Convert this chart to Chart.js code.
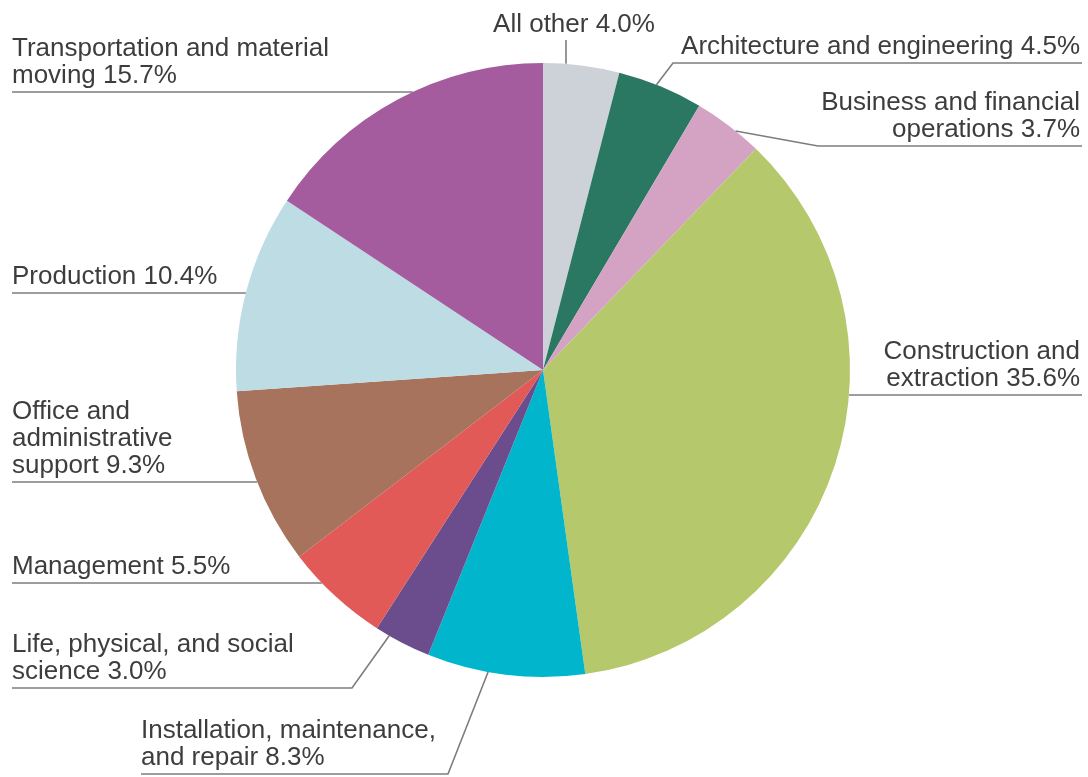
<!DOCTYPE html>
<html>
<head>
<meta charset="utf-8">
<script src="https://cdn.jsdelivr.net/npm/chart.js@4.4.1/dist/chart.umd.min.js"></script>
<style>
  html, body { margin: 0; padding: 0; background: #fff; }
  #wrap { width: 1088px; height: 777px; }
</style>
</head>
<body>
<div id="wrap"><canvas id="pie" width="1088" height="777"></canvas></div>
<script>
// categories, clockwise from 12 o'clock
const categories = [
  'All other',
  'Architecture and engineering',
  'Business and financial operations',
  'Construction and extraction',
  'Installation, maintenance, and repair',
  'Life, physical, and social science',
  'Management',
  'Office and administrative support',
  'Production',
  'Transportation and material moving'
];
const shares = [4.0, 4.5, 3.7, 35.6, 8.3, 3.0, 5.5, 9.3, 10.4, 15.7];
const sliceColors = [
  '#cdd2d9', '#2b7862', '#d4a3c3', '#b6c86c', '#00b5cc',
  '#6b4d8d', '#e25a58', '#a7735c', '#bedce4', '#a55c9e'
];

// label placement (same order as categories)
// words: words per line before the last line, mode: how the leader meets the pie
// at: where along the slice (0..1) an elbow leader touches the rim
const labelLayout = [
  { x: 574, align: 'center', base: 32, words: [], mode: 'v', lineX: 566, lineTop: 40 },
  { x: 1080, align: 'right', base: 54, words: [], mode: 'elbow', uy: 63, ux1: 673, ux2: 1082, at: 0.45 },
  { x: 1080, align: 'right', base: 137, words: [3], mode: 'elbow', uy: 146, ux1: 818, ux2: 1082, at: 0.62 },
  { x: 1080, align: 'right', base: 386, words: [2], mode: 'h', side: 'right', uy: 395, ux2: 1082 },
  { x: 141, align: 'left', base: 765, words: [2], mode: 'elbow', uy: 774, ux1: 141, ux2: 448, at: 0.61 },
  { x: 12, align: 'left', base: 679, words: [4], mode: 'elbow', uy: 688, ux1: 12, ux2: 352, at: 0.75 },
  { x: 12, align: 'left', base: 574, words: [], mode: 'h', side: 'left', uy: 583, ux1: 12 },
  { x: 12, align: 'left', base: 473, words: [2, 1], mode: 'h', side: 'left', uy: 482, ux1: 12 },
  { x: 12, align: 'left', base: 284, words: [], mode: 'h', side: 'left', uy: 293, ux1: 12 },
  { x: 12, align: 'left', base: 83, words: [3], mode: 'h', side: 'left', uy: 92, ux1: 12 }
];

function splitLines(text, words) {
  const parts = text.split(' ');
  const lines = [];
  let i = 0;
  words.forEach(function (n) {
    lines.push(parts.slice(i, i + n).join(' '));
    i += n;
  });
  lines.push(parts.slice(i).join(' '));
  return lines;
}

const leaderLabels = {
  id: 'leaderLabels',
  afterDatasetsDraw(chart) {
    const ctx = chart.ctx;
    const arcs = chart.getDatasetMeta(0).data;
    ctx.save();
    ctx.strokeStyle = '#7d7d7d';
    ctx.lineWidth = 1.6;
    ctx.fillStyle = '#3d3d3d';
    ctx.font = '26px "Liberation Sans", Arial, sans-serif';
    ctx.textBaseline = 'alphabetic';

    arcs.forEach(function (arc, i) {
      const L = labelLayout[i];
      const cx = arc.x, cy = arc.y, R = arc.outerRadius;

      ctx.beginPath();
      if (L.mode === 'v') {
        const dy = Math.sqrt(R * R - (L.lineX - cx) * (L.lineX - cx));
        ctx.moveTo(L.lineX, L.lineTop);
        ctx.lineTo(L.lineX, cy - dy);
      } else if (L.mode === 'h') {
        const dx = Math.sqrt(R * R - (L.uy - cy) * (L.uy - cy));
        if (L.side === 'left') {
          ctx.moveTo(L.ux1, L.uy);
          ctx.lineTo(cx - dx, L.uy);
        } else {
          ctx.moveTo(L.ux2, L.uy);
          ctx.lineTo(cx + dx, L.uy);
        }
      } else {
        const a = arc.startAngle + (arc.endAngle - arc.startAngle) * L.at;
        const px = cx + R * Math.cos(a);
        const py = cy + R * Math.sin(a);
        const elbowX = px < cx ? L.ux2 : L.ux1;
        const farX = px < cx ? L.ux1 : L.ux2;
        ctx.moveTo(farX, L.uy);
        ctx.lineTo(elbowX, L.uy);
        ctx.lineTo(px, py);
      }
      ctx.stroke();

      const text = categories[i] + ' ' + shares[i].toFixed(1) + '%';
      const lines = splitLines(text, L.words);
      ctx.textAlign = L.align;
      lines.forEach(function (line, k) {
        ctx.fillText(line, L.x, L.base - (lines.length - 1 - k) * 27);
      });
    });
    ctx.restore();
  }
};

const pieConfig = {
  type: 'pie',
  data: {
    labels: categories,
    datasets: [{
      data: shares,
      backgroundColor: sliceColors,
      borderWidth: 0
    }]
  },
  options: {
    responsive: false,
    animation: false,
    layout: {
      padding: { top: 63, bottom: 100, left: 236, right: 238 }
    },
    plugins: {
      legend: { display: false },
      tooltip: { enabled: false }
    }
  },
  plugins: [leaderLabels]
};

const pieCtx = document.getElementById('pie').getContext('2d');
window.myPie = new Chart(pieCtx, pieConfig);
</script>
</body>
</html>
